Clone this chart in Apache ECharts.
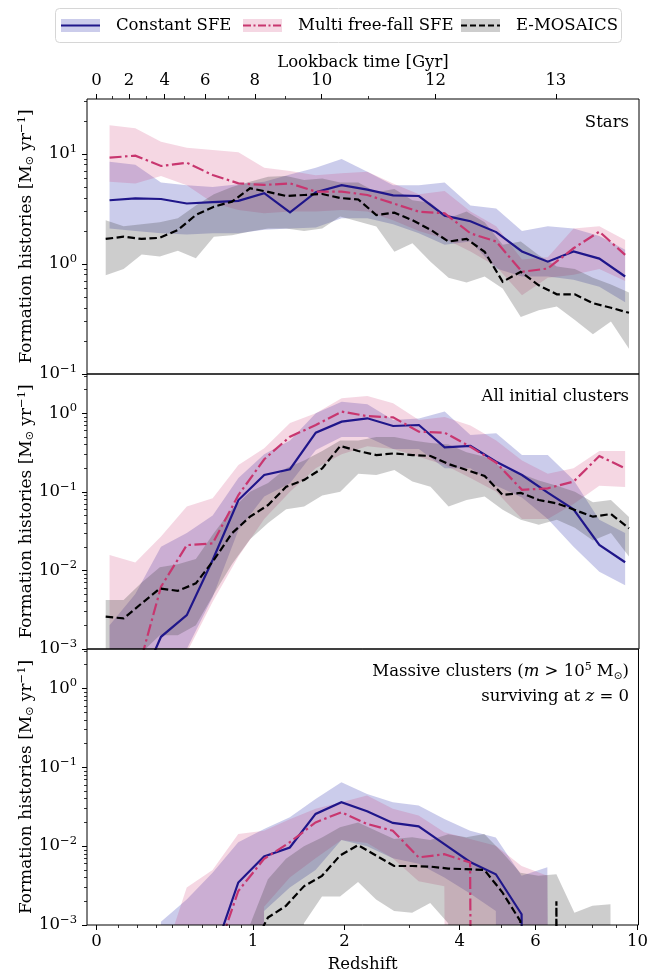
<!DOCTYPE html>
<html>
<head>
<meta charset="utf-8">
<script src="https://cdn.jsdelivr.net/npm/echarts@6/dist/echarts.min.js"></script>
<style>
  html, body { margin: 0; padding: 0; background: #ffffff; }
  #chart { width: 651px; height: 974px; }
</style>
</head>
<body>
<div id="chart"></div>
<script>
// ---- bin centres (redshift) ----
const zModels = [0.059, 0.187, 0.330, 0.491, 0.672, 0.874, 1.101, 1.355, 1.640, 1.960, 2.317,
  2.718, 3.168, 3.672, 4.237, 4.870, 5.580, 6.376, 7.268, 8.268, 9.390];
const zEmosaics = [0.041, 0.127, 0.221, 0.323, 0.433, 0.552, 0.681, 0.821, 0.973, 1.137, 1.315,
  1.507, 1.716, 1.942, 2.187, 2.452, 2.739, 3.050, 3.388, 3.753, 4.148, 4.577, 5.041, 5.544,
  6.088, 6.678, 7.316, 8.009, 8.757, 9.569];

// ---- panel 1: stars [Msun/yr] ----
const starsConstMid = [3.8, 3.95, 3.9, 3.55, 3.65, 3.75, 4.4, 2.95, 4.5, 5.2, 4.75, 4.2, 4.15, 2.75, 2.45, 1.95, 1.3, 1.05, 1.3, 1.12, 0.77];
const starsConstLo  = [2.1, 2.0, 1.9, 1.85, 1.9, 1.9, 2.05, 2.1, 2.15, 2.6, 2.6, 2.3, 1.9, 1.5, 1.6, 0.91, 0.77, 0.77, 0.72, 0.62, 0.45];
const starsConstHi  = [8.5, 8.0, 5.5, 5.2, 5.0, 5.3, 5.6, 6.5, 7.5, 9.0, 6.9, 5.2, 5.2, 5.5, 3.4, 3.2, 2.0, 2.2, 2.1, 1.8, 1.35];
const starsMffMid = [9.26, 9.66, 7.78, 8.34, 6.44, 5.41, 5.23, 5.41, 4.55, 4.55, 4.24, 3.56, 2.99, 2.89, 1.9, 1.6, 0.85, 0.91, 1.39, 1.97, 1.21];
const starsMffLo  = [5.6, 5.4, 6.3, 5.2, 3.6, 3.1, 2.9, 3.0, 3.0, 3.1, 3.0, 2.5, 2.0, 1.7, 1.3, 0.95, 0.52, 0.75, 0.8, 0.9, 0.7];
const starsMffHi  = [18.3, 17.1, 12.9, 11.4, 10.9, 10.4, 7.5, 7.0, 6.4, 6.7, 6.9, 5.4, 4.3, 4.6, 3.0, 2.2, 1.1, 1.15, 2.1, 2.2, 1.65];
const starsEmoMid = [1.69, 1.77, 1.69, 1.73, 2.04, 2.79, 3.32, 3.69, 4.88, 4.52, 4.15, 4.24, 4.33, 3.98, 3.86,
  2.79, 2.93, 2.5, 2.05, 1.60, 1.69, 1.29, 0.69, 0.85, 0.64, 0.53, 0.53, 0.44, 0.40, 0.36];
const starsEmoLo  = [0.79, 0.9, 1.22, 1.17, 1.32, 1.13, 1.77, 1.83, 1.97, 2.1, 2.1, 2.0, 2.1, 2.7, 2.43,
  2.19, 1.29, 1.54, 1.05, 0.75, 0.68, 0.77, 0.6, 0.33, 0.38, 0.41, 0.31, 0.23, 0.3, 0.17];
const starsEmoHi  = [2.5, 2.2, 2.3, 2.4, 2.6, 3.4, 4.3, 5.0, 5.6, 6.2, 6.3, 5.8, 6.0, 5.5, 5.5,
  4.5, 4.8, 3.8, 3.6, 2.6, 3.0, 2.4, 1.5, 1.6, 1.2, 0.95, 0.9, 0.75, 0.65, 0.55];

// ---- panel 2: all initial clusters [Msun/yr] ----
const clConstMid = [0, 2.6e-4, 1.43e-3, 2.7e-3, 0.0136, 0.0787, 0.164, 0.194, 0.567, 0.782, 0.863, 0.689, 0.709, 0.369, 0.384, 0.242, 0.164, 0.0977, 0.060, 0.0211, 0.0127];
const clConstLo  = [0, 0, 0, 1e-3, 4.6e-3, 0.0327, 0.087, 0.129, 0.34, 0.5, 0.5, 0.35, 0.35, 0.2, 0.2, 0.12, 0.085, 0.045, 0.02, 0.0096, 0.0065];
const clConstHi  = [0.002, 0.005, 0.02, 0.03, 0.05, 0.15, 0.3, 0.45, 1.0, 1.4, 1.3, 0.82, 0.86, 1.05, 0.53, 0.556, 0.294, 0.294, 0.142, 0.044, 0.03];
const clMffMid = [0, 4e-4, 6.2e-3, 0.021, 0.0221, 0.0912, 0.26, 0.504, 0.709, 1.05, 0.92, 0.887, 0.583, 0.566, 0.375, 0.235, 0.106, 0.111, 0.135, 0.286, 0.199];
const clMffLo  = [3e-4, 3e-4, 5e-4, 9e-4, 4e-3, 0.015, 0.045, 0.1, 0.2, 0.3, 0.38, 0.35, 0.28, 0.22, 0.15, 0.1, 0.045, 0.045, 0.07, 0.12, 0.115];
const clMffHi  = [0.0157, 0.0126, 0.027, 0.065, 0.083, 0.22, 0.36, 0.75, 1.0, 1.55, 1.66, 1.34, 0.82, 0.9, 0.7, 0.45, 0.25, 0.17, 0.2, 0.33, 0.33];
const clEmoMid = [2.58e-3, 2.45e-3, 3.81e-3, 5.9e-3, 5.5e-3, 6.85e-3, 0.0136, 0.0297, 0.0483, 0.068, 0.116, 0.142, 0.199, 0.384, 0.331,
  0.294, 0.309, 0.294, 0.286, 0.226, 0.19, 0.159, 0.0912, 0.097, 0.0787, 0.0714, 0.0588, 0.0483, 0.0522, 0.0344];
const clEmoLo  = [8e-4, 8e-4, 9e-4, 1.5e-3, 1.5e-3, 2e-3, 5e-3, 0.012, 0.025, 0.04, 0.06, 0.065, 0.09, 0.1, 0.17,
  0.164, 0.19, 0.135, 0.116, 0.065, 0.079, 0.087, 0.059, 0.044, 0.038, 0.044, 0.035, 0.024, 0.03, 0.015];
const clEmoHi  = [4.2e-3, 4.2e-3, 7e-3, 0.011, 0.012, 0.014, 0.03, 0.06, 0.1, 0.13, 0.2, 0.25, 0.33, 0.45, 0.45,
  0.5, 0.5, 0.45, 0.42, 0.4, 0.32, 0.28, 0.2, 0.17, 0.14, 0.12, 0.1, 0.074, 0.079, 0.048];

// ---- panel 3: massive clusters surviving at z = 0 [Msun/yr] ----
const mcConstMid = [0, 0, 0, 0, 3.9e-4, 3.46e-3, 7.4e-3, 9.6e-3, 0.0256, 0.036, 0.0277, 0.0197, 0.0178, 0.0106, 6.3e-3, 4.4e-3, 1.37e-3, 0, 0, 0, 0];
const mcConstLo  = [0, 0, 0, 0, 0, 0, 1.5e-3, 3e-3, 5e-3, 0.012, 0.01, 7e-3, 6e-3, 4e-3, 2.5e-3, 1.5e-3, 0, 0, 0, 0, 0];
const mcConstHi  = [0, 0, 1.1e-3, 2.1e-3, 4.6e-3, 0.0112, 0.0165, 0.0232, 0.0397, 0.0648, 0.046, 0.036, 0.0327, 0.0221, 0.0157, 0.0129, 4.2e-3, 5.4e-3, 0, 0, 0];
const mcMffMid = [0, 0, 0, 0, 3e-4, 2.7e-3, 6.9e-3, 0.0112, 0.02, 0.0269, 0.0191, 0.0157, 7.2e-3, 7.9e-3, 6.2e-3, 0, 0, 0, 0, 0, 0];
const mcMffLo  = [0, 0, 0, 0, 0, 0, 1.7e-3, 4e-3, 7e-3, 0.012, 0.011, 7e-3, 3.6e-3, 3.1e-3, 0, 0, 0, 0, 0, 0, 0];
const mcMffHi  = [0, 0, 3e-4, 3.0e-3, 5e-3, 0.0143, 0.0157, 0.022, 0.0297, 0.036, 0.044, 0.0297, 0.0244, 0.015, 0.0123, 0.0101, 5.6e-3, 4.2e-3, 0, 0, 0];
const mcEmoMid = [0, 0, 0, 0, 0, 0, 0, 0, 4.5e-4, 1.24e-3, 1.75e-3, 3.1e-3, 4.2e-3, 7.6e-3, 0.0103,
  7.6e-3, 5.6e-3, 5.6e-3, 5.5e-3, 5.2e-3, 5.1e-3, 5.0e-3, 2.6e-3, 1.12e-3, 0, 2.0e-3, 0, 0, 0, 0];
const mcEmoLo  = [0, 0, 0, 0, 0, 0, 0, 0, 0, 0, 0, 1.05e-3, 2.3e-3, 2.3e-3, 3.5e-3,
  2.1e-3, 1.5e-3, 1.43e-3, 1.9e-3, 1.05e-3, 0, 0, 0, 0, 0, 0, 0, 0, 0, 0];
const mcEmoHi  = [0, 0, 0, 0, 0, 0, 0, 0, 1e-3, 3.8e-3, 6.9e-3, 0.01, 0.0129, 0.0173, 0.02,
  0.0157, 0.0123, 0.013, 0.012, 0.0142, 0.013, 0.0143, 8.3e-3, 4.6e-3, 4.2e-3, 4.4e-3, 1.43e-3, 1.75e-3, 1.83e-3, 0];

// ---- tick values ----
const redshiftMajor = [0, 1, 2, 4, 6, 10];
const redshiftMinor = [0.1, 0.2, 0.3, 0.4, 0.5, 0.6, 0.7, 0.8, 0.9, 3, 5, 7, 8, 9];
const lookbackMajor = [0, 2, 4, 6, 8, 10, 12, 13];
const lookbackMinor = [1, 3, 5, 7, 9, 11];

// ---- styling ----
const FONT = 'DejaVu Serif';
const FS = 16.5;
const C_CONST = '#1f168a';
const C_MFF = '#c8366f';
const C_EMO = '#000000';
const BAND_CONST = 'rgba(70, 72, 182, 0.28)';
const BAND_MFF = 'rgba(205, 55, 115, 0.20)';
const BAND_EMO = 'rgba(60, 60, 60, 0.26)';

// x is plotted in log10(1+z); y in log10 of the rate (zero rates fall far below the axis)
const toU = z => Math.log10(1 + z);
const toL = v => (v > 0 ? Math.log10(v) : -60);
const X_MIN = -0.0185, X_MAX = 1.0433;

// flat LCDM lookback time in Gyr
const H0 = 67.77, OM = 0.307, OL = 1 - OM;
function lookback(z) {
  const n = 400, h = z / n;
  let s = 0;
  for (let i = 0; i <= n; i++) {
    const x = i * h;
    const f = 1 / ((1 + x) * Math.sqrt(OM * Math.pow(1 + x, 3) + OL));
    s += f * (i === 0 || i === n ? 1 : (i % 2 ? 4 : 2));
  }
  return (977.79 / H0) * s * h / 3;
}
function zAtLookback(t) {
  if (t <= 0) return 0;
  let a = 0, b = 60;
  for (let k = 0; k < 60; k++) {
    const m = (a + b) / 2;
    if (lookback(m) < t) a = m; else b = m;
  }
  return (a + b) / 2;
}
const lbMajorU = lookbackMajor.map(t => toU(zAtLookback(t)));
const lbMinorU = lookbackMinor.map(t => toU(zAtLookback(t)));

const supMinus = n => (n < 0 ? '\u2212' + (-n) : String(n));
const richTick = {
  b: { fontFamily: FONT, fontSize: FS, color: '#000' },
  s: { fontFamily: FONT, fontSize: 11.5, color: '#000', padding: [0, 0, 10, 0] }
};

const grids = [
  { left: 87, top: 99, width: 552, height: 275 },
  { left: 87, top: 374, width: 552, height: 275 },
  { left: 87, top: 649, width: 552, height: 276 }
];
const yRanges = [[-1, 1.5], [-3, 0.5], [-3, 0.5]];

function decadeTicks(r) {
  const major = [], minor = [];
  for (let d = Math.ceil(r[0]); d <= r[1]; d++) major.push(d);
  for (let d = Math.floor(r[0]); d <= Math.ceil(r[1]); d++) {
    for (let m = 2; m <= 9; m++) {
      const v = d + Math.log10(m);
      if (v > r[0] && v < r[1]) minor.push(v);
    }
  }
  return { major, minor };
}

const noLine = { show: false, onZero: false };
const xAxis = [];
const yAxis = [];
grids.forEach((g, gi) => {
  xAxis.push({
    type: 'value', gridIndex: gi, min: X_MIN, max: X_MAX, position: 'bottom',
    axisLine: noLine, splitLine: { show: false },
    axisTick: gi === 2 ? { show: true, length: 5, lineStyle: { color: '#000', width: 1 },
      customValues: redshiftMajor.map(toU) } : { show: false },
    axisLabel: gi === 2 ? { show: true, margin: 8, fontFamily: FONT, fontSize: FS, color: '#000',
      customValues: redshiftMajor.map(toU), alignMinLabel: 'center', alignMaxLabel: 'center',
      formatter: v => String(Math.round(Math.pow(10, v) - 1)) } : { show: false },
    name: gi === 2 ? 'Redshift' : '', nameLocation: 'middle', nameGap: 31, nameMoveOverlap: false,
    nameTextStyle: { fontFamily: FONT, fontSize: FS, color: '#000' }
  });
});
// minor redshift ticks
xAxis.push({
  type: 'value', gridIndex: 2, min: X_MIN, max: X_MAX, position: 'bottom',
  axisLine: noLine, splitLine: { show: false }, axisLabel: { show: false },
  axisTick: { show: true, length: 3, lineStyle: { color: '#000', width: 0.8 }, customValues: redshiftMinor.map(toU) }
});
// lookback time on top
xAxis.push({
  type: 'value', gridIndex: 0, min: X_MIN, max: X_MAX, position: 'top',
  axisLine: noLine, splitLine: { show: false },
  axisTick: { show: true, length: 5, lineStyle: { color: '#000', width: 1 }, customValues: lbMajorU },
  axisLabel: { show: true, margin: 10, fontFamily: FONT, fontSize: FS, color: '#000', customValues: lbMajorU,
    formatter: v => {
      let best = 0;
      lbMajorU.forEach((u, i) => { if (Math.abs(u - v) < Math.abs(lbMajorU[best] - v)) best = i; });
      return String(lookbackMajor[best]);
    } },
  name: 'Lookback time [Gyr]', nameLocation: 'middle', nameGap: 28, nameMoveOverlap: false,
  nameTextStyle: { fontFamily: FONT, fontSize: FS, color: '#000' }
});
xAxis.push({
  type: 'value', gridIndex: 0, min: X_MIN, max: X_MAX, position: 'top',
  axisLine: noLine, splitLine: { show: false }, axisLabel: { show: false },
  axisTick: { show: true, length: 3, lineStyle: { color: '#000', width: 0.8 }, customValues: lbMinorU }
});

grids.forEach((g, gi) => {
  const t = decadeTicks(yRanges[gi]);
  yAxis.push({
    type: 'value', gridIndex: gi, min: yRanges[gi][0], max: yRanges[gi][1], position: 'left',
    axisLine: noLine, splitLine: { show: false },
    axisTick: { show: true, length: 5, lineStyle: { color: '#000', width: 1 }, customValues: t.major },
    axisLabel: { show: true, margin: 10, customValues: t.major, rich: richTick,
      formatter: v => '{b|10}{s|' + supMinus(Math.round(v)) + '}' },
    name: 'Formation histories [M{sub|\u2299} yr{sup|\u22121}]',
    nameLocation: 'middle', nameRotate: 90, nameGap: 50, nameMoveOverlap: false,
    nameTextStyle: {
      fontFamily: FONT, fontSize: 17, color: '#000',
      rich: {
        sub: { fontFamily: 'DejaVu Sans', fontSize: 11, color: '#000', padding: [8, 0, 0, 0] },
        sup: { fontFamily: FONT, fontSize: 11.5, color: '#000', padding: [0, 0, 9, 0] }
      }
    }
  });
});
grids.forEach((g, gi) => {
  const t = decadeTicks(yRanges[gi]);
  yAxis.push({
    type: 'value', gridIndex: gi, min: yRanges[gi][0], max: yRanges[gi][1], position: 'left',
    axisLine: noLine, splitLine: { show: false }, axisLabel: { show: false },
    axisTick: { show: true, length: 3, lineStyle: { color: '#000', width: 0.8 }, customValues: t.minor }
  });
});

// ---- series ----
const series = [];
// shaded range: one polygon through the upper edge and back along the lower edge
function addBand(gi, zs, lo, hi, color) {
  const data = zs.map((z, i) => [toU(z), toL(lo[i]), toL(hi[i])]);
  series.push({
    type: 'custom', xAxisIndex: gi, yAxisIndex: gi, coordinateSystem: 'cartesian2d',
    data, encode: { x: 0, y: [1, 2] }, clip: true, silent: true, z: 1, animation: false,
    renderItem: (params, api) => {
      if (params.dataIndex !== 0) return null;
      const pts = [];
      for (let i = 0; i < data.length; i++) pts.push(api.coord([data[i][0], data[i][2]]));
      for (let i = data.length - 1; i >= 0; i--) pts.push(api.coord([data[i][0], data[i][1]]));
      return { type: 'polygon', shape: { points: pts }, style: { fill: color } };
    }
  });
}
function addLine(gi, zs, mid, color, type, width) {
  series.push({
    type: 'line', xAxisIndex: gi, yAxisIndex: gi,
    data: zs.map((z, i) => [toU(z), toL(mid[i])]),
    symbol: 'none', lineStyle: { color, width, type, cap: 'butt', join: 'miter' },
    clip: true, silent: true, z: 3, animation: false
  });
}
const panels = [
  [starsConstMid, starsConstLo, starsConstHi, starsMffMid, starsMffLo, starsMffHi, starsEmoMid, starsEmoLo, starsEmoHi],
  [clConstMid, clConstLo, clConstHi, clMffMid, clMffLo, clMffHi, clEmoMid, clEmoLo, clEmoHi],
  [mcConstMid, mcConstLo, mcConstHi, mcMffMid, mcMffLo, mcMffHi, mcEmoMid, mcEmoLo, mcEmoHi]
];
panels.forEach((p, gi) => {
  addBand(gi, zModels, p[1], p[2], BAND_CONST);
  addBand(gi, zModels, p[4], p[5], BAND_MFF);
  addBand(gi, zEmosaics, p[7], p[8], BAND_EMO);
  addLine(gi, zModels, p[0], C_CONST, 'solid', 2.2);
  addLine(gi, zModels, p[3], C_MFF, [12, 3.5, 2.5, 3.5], 2.2);
  addLine(gi, zEmosaics, p[6], C_EMO, [7.5, 3.5], 2.2);
});

// ---- legend and panel captions ----
const txt = (x, y, text, align) => ({
  type: 'text', x, y, z: 10,
  style: { text, fill: '#000', font: FS + 'px "' + FONT + '"', align, verticalAlign: 'middle' }
});
const legendItems = [
  { x: 61, label: 'Constant SFE', band: BAND_CONST, color: C_CONST, dash: null },
  { x: 243, label: 'Multi free-fall SFE', band: BAND_MFF, color: C_MFF, dash: [8, 2.5, 2, 2.5] },
  { x: 461, label: 'E-MOSAICS', band: BAND_EMO, color: C_EMO, dash: [6, 3] }
];
const graphic = [
  { type: 'rect', z: 9, shape: { x: 55.5, y: 8.5, width: 566, height: 34, r: 4 },
    style: { fill: '#fff', stroke: '#d6d6d6', lineWidth: 1 } }
];
legendItems.forEach(it => {
  graphic.push({ type: 'rect', z: 10, shape: { x: it.x, y: 19, width: 39, height: 13 }, style: { fill: it.band } });
  graphic.push({ type: 'line', z: 11, shape: { x1: it.x, y1: 25.5, x2: it.x + 39, y2: 25.5 },
    style: { stroke: it.color, lineWidth: 2, lineDash: it.dash } });
  graphic.push(txt(it.x + 55, 26, it.label, 'left'));
});
graphic.push(txt(629, 123, 'Stars', 'right'));
graphic.push(txt(629, 397, 'All initial clusters', 'right'));
graphic.push({
  type: 'text', x: 629, y: 672, z: 10,
  style: {
    text: 'Massive clusters ({i|m} > 10{s|5} M{o|\u2299})', align: 'right', verticalAlign: 'middle',
    fill: '#000', font: FS + 'px "' + FONT + '"',
    rich: {
      i: { fontFamily: FONT, fontStyle: 'italic', fontSize: FS, fill: '#000' },
      s: { fontFamily: FONT, fontSize: 11, fill: '#000', padding: [0, 0, 9, 0] },
      o: { fontFamily: 'DejaVu Sans', fontSize: 10.5, fill: '#000', padding: [8, 0, 0, 0] }
    }
  }
});
graphic.push({
  type: 'text', x: 629, y: 697, z: 10,
  style: {
    text: 'surviving at {i|z} = 0', align: 'right', verticalAlign: 'middle',
    fill: '#000', font: FS + 'px "' + FONT + '"',
    rich: { i: { fontFamily: FONT, fontStyle: 'italic', fontSize: FS, fill: '#000' } }
  }
});

const chart = echarts.init(document.getElementById('chart'), null, { renderer: 'canvas' });
chart.setOption({
  animation: false,
  backgroundColor: '#ffffff',
  grid: grids.map(g => Object.assign({ show: true, borderColor: '#000', borderWidth: 1, backgroundColor: 'transparent', z: 5 }, g)),
  xAxis, yAxis, series, graphic
});
</script>
</body>
</html>
